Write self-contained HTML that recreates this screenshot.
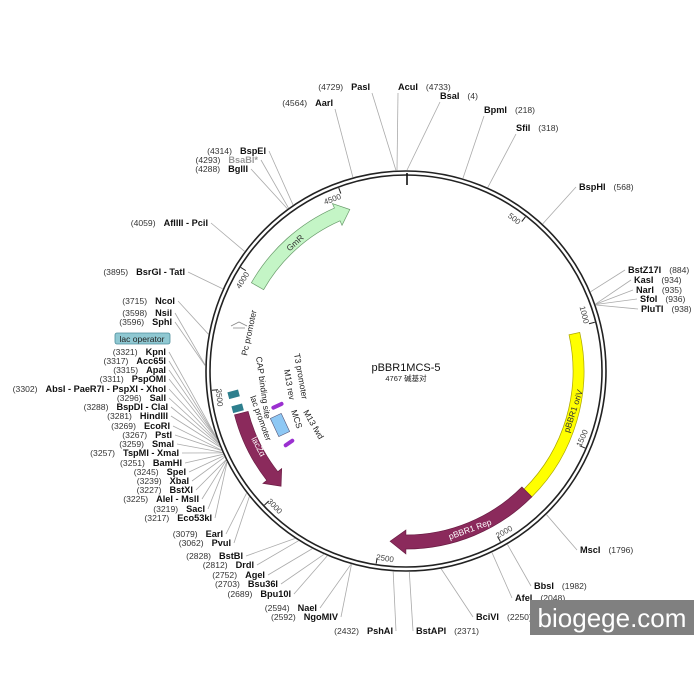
<!DOCTYPE html>
<html><head><meta charset="utf-8">
<style>
html,body{margin:0;padding:0;background:#fff;}
svg{display:block;}
.n{font-family:"Liberation Sans",sans-serif;font-size:8.6px;fill:#333;}
.b{font-family:"Liberation Sans",sans-serif;font-size:9.2px;font-weight:bold;fill:#111;}
.f{font-family:"Liberation Sans",sans-serif;font-size:8.5px;fill:#222;}
</style></head>
<body>
<svg id="s" width="700" height="700" viewBox="0 0 700 700" xmlns="http://www.w3.org/2000/svg">
<rect width="700" height="700" fill="#fff"/>
<g id="lines" stroke="#aaa" stroke-width="0.8" fill="none"></g>
<circle cx="406" cy="371" r="200" fill="none" stroke="#222" stroke-width="1.6"/>
<circle cx="406" cy="371" r="196" fill="none" stroke="#222" stroke-width="1.6"/>
<line x1="407" y1="173" x2="407" y2="185" stroke="#111" stroke-width="1.6"/>
<g id="feat"></g>
<g id="txt"></g>
<rect x="115" y="333" width="55" height="11" rx="2" fill="#8fc8d2" stroke="#4d8e9c" stroke-width="0.8"/>
<text x="142" y="342" text-anchor="middle" class="f" style="font-size:8.5px">lac operator</text>
<rect x="228" y="391" width="11" height="7" fill="#2e7f8e" transform="rotate(-15 233 394)"/>
<rect x="232" y="405" width="11" height="7" fill="#2e7f8e" transform="rotate(-15 237 408)"/>
<rect x="271" y="404" width="13" height="4" rx="2" fill="#9b30d0" transform="rotate(-25 277 406)"/>
<rect x="274" y="415" width="12" height="20" fill="#8ec8f4" stroke="#557" stroke-width="0.6" transform="rotate(-25 280 425)"/>
<rect x="283" y="441" width="12" height="4" rx="2" fill="#9b30d0" transform="rotate(-35 289 443)"/>
<path d="M231 326 l8 -4 l8 4 M233 328 h12" stroke="#888" stroke-width="0.8" fill="none"/>
<text class="f" transform="translate(247 356) rotate(-78)">Pc promoter</text>
<text class="f" transform="translate(256 357) rotate(82)">CAP binding site</text>
<text class="f" transform="translate(250 397) rotate(70)">lac promoter</text>
<text class="f" transform="translate(294 354) rotate(80)">T3 promoter</text>
<text class="f" transform="translate(284 370) rotate(80)">M13 rev</text>
<text class="f" transform="translate(291 411) rotate(72)">MCS</text>
<text class="f" transform="translate(303 412) rotate(60)">M13 fwd</text>
<text x="406" y="371" text-anchor="middle" style="font-family:'Liberation Sans',sans-serif;font-size:11px;fill:#111">pBBR1MCS-5</text>
<text x="406" y="381" text-anchor="middle" style="font-family:'Liberation Sans','Noto Sans CJK SC',sans-serif;font-size:7.5px;fill:#222">4767 碱基对</text>
<rect x="530" y="600" width="164" height="35" fill="#808080"/>
<text x="612" y="627" text-anchor="middle" style="font-family:'Liberation Sans',sans-serif;font-size:26px;fill:#fff">biogege.com</text>
</svg>
<script>
var cx=406,cy=371,N=4767,NS="http://www.w3.org/2000/svg";
function pt(p,r){var a=p/N*2*Math.PI;return [cx+r*Math.sin(a),cy-r*Math.cos(a)];}
function el(t,a,par){var e=document.createElementNS(NS,t);for(var k in a)e.setAttribute(k,a[k]);document.getElementById(par).appendChild(e);return e;}
function arrow(p1,p2,r1,r2,hd,fill,stroke){
  var dir=p2>p1?1:-1, ph=p2-dir*hd, rm=(r1+r2)/2, w=(r2-r1);
  var a=pt(p1,r2),b=pt(ph,r2),c=pt(ph,r2+w*0.35),t=pt(p2,rm),e=pt(ph,r1-w*0.35),f=pt(ph,r1),g=pt(p1,r1);
  var sw=dir>0?1:0, large=Math.abs(ph-p1)>N/2?1:0;
  var s="M"+a+" A"+r2+" "+r2+" 0 "+large+" "+sw+" "+b+" L"+c+" L"+t+" L"+e+" L"+f+" A"+r1+" "+r1+" 0 "+large+" "+(1-sw)+" "+g+" Z";
  el("path",{d:s,fill:fill,stroke:stroke,"stroke-width":0.7},"feat");
}
function band(p1,p2,r1,r2,fill,stroke){
  var a=pt(p1,r2),b=pt(p2,r2),c=pt(p2,r1),d=pt(p1,r1);
  el("path",{d:"M"+a+" A"+r2+" "+r2+" 0 0 1 "+b+" L"+c+" A"+r1+" "+r1+" 0 0 0 "+d+" Z",fill:fill,stroke:stroke,"stroke-width":0.7},"feat");
}
arrow(3969,4513,164,178,60,"#c4f5c6","#6a9c6c");
band(1026,1788,167,178,"#ffff00","#aaa400");
arrow(1788,2454,164,178,70,"#8b2a5c","#6a1d44");
arrow(3385,3010,163,177,60,"#8b2a5c","#6a1d44");
function ft(x,y,rot,txt,col){var e=el("text",{x:0,y:0,transform:"translate("+x+" "+y+") rotate("+rot+")","text-anchor":"middle",style:"font-family:'Liberation Sans',sans-serif;font-size:8.5px;fill:"+col},"txt");e.textContent=txt;}
ft(297,245,-42,"GmR","#333");ft(576,412,-72,"pBBR1 oriV","#333");ft(471,532,-20,"pBBR1 Rep","#fff");ft(256,448,62,"lacZα","#fff");
[500,1000,1500,2000,2500,3000,3500,4000,4500].forEach(function(p){
  var a=pt(p,195),b=pt(p,189);el("line",{x1:a[0],y1:a[1],x2:b[0],y2:b[1],stroke:"#222","stroke-width":1},"txt");
  var ang=p/N*360,rot,anchor,q;
  if(ang<90||ang>270){rot=ang>180?ang-360:ang;anchor="end";q=pt(p-4,184);}
  else{rot=ang-180;anchor="start";q=pt(p+4,191);}
  var e=el("text",{x:0,y:0,transform:"translate("+q[0]+" "+q[1]+") rotate("+rot+")","text-anchor":anchor,class:"n",style:"font-size:8px;fill:#444"},"txt");e.textContent=p;
});
var S=[
["3715","NcoI",175,304,"L"],["3598","NsiI",172,316,"L"],["3596","SphI",172,325,"L"],
["3321","KpnI",166,355,"L"],["3317","Acc65I",166,364,"L"],["3315","ApaI",166,373,"L"],["3311","PspOMI",166,382,"L"],
["3302","AbsI - PaeR7I - PspXI - XhoI",166,392,"L"],["3296","SalI",166,401,"L"],["3288","BspDI - ClaI",168,410,"L"],
["3281","HindIII",168,419,"L"],["3269","EcoRI",170,429,"L"],["3267","PstI",172,438,"L"],["3259","SmaI",174,447,"L"],
["3257","TspMI - XmaI",179,456,"L"],["3251","BamHI",182,466,"L"],["3245","SpeI",186,475,"L"],["3239","XbaI",189,484,"L"],
["3227","BstXI",193,493,"L"],["3225","AleI - MslI",199,502,"L"],["3219","SacI",205,512,"L"],["3217","Eco53kI",212,521,"L"],
["3079","EarI",223,537,"L"],["3062","PvuI",231,546,"L"],["2828","BstBI",243,559,"L"],["2812","DrdI",254,568,"L"],
["2752","AgeI",265,578,"L"],["2703","Bsu36I",278,587,"L"],["2689","Bpu10I",291,597,"L"],["2594","NaeI",317,611,"L"],
["2592","NgoMIV",338,620,"L"],["2432","PshAI",393,634,"L"],
["2371","BstAPI",416,634,"R"],["2250","BciVI",476,620,"R"],["2048","AfeI",515,601,"R"],["1982","BbsI",534,589,"R"],["1796","MscI",580,553,"R"],
["3895","BsrGI - TatI",185,275,"L"],["4059","AflIII - PciI",208,226,"L"],["4288","BglII",248,172,"L"],["4293","BsaBI*",258,163,"L",1],
["4314","BspEI",266,154,"L"],["4564","AarI",333,106,"L"],["4729","PasI",370,90,"L"],
["4733","AcuI",398,90,"R"],["4","BsaI",440,99,"R"],["218","BpmI",484,113,"R"],["318","SfiI",516,131,"R"],["568","BspHI",579,190,"R"],
["884","BstZ17I",628,273,"R"],["934","KasI",634,283,"R"],["935","NarI",636,293,"R"],["936","SfoI",640,302,"R"],["938","PluTI",641,312,"R"]
];
S.forEach(function(s){
  var num=+s[0],x=s[2],y=s[3],L=s[4]=="L";
  var t=el("text",{x:x,y:y,"text-anchor":L?"end":"start"},"txt");
  var nm=document.createElementNS(NS,"tspan");nm.setAttribute("class","b");if(s[5])nm.setAttribute("style","fill:#999");nm.textContent=s[1];
  var nn=document.createElementNS(NS,"tspan");nn.setAttribute("class","n");nn.textContent="("+s[0]+")";
  if(L){t.appendChild(nn);t.appendChild(document.createTextNode("\u00a0 "));t.appendChild(nm);}
  else{t.appendChild(nm);t.appendChild(document.createTextNode("\u00a0 "));t.appendChild(nn);}
  var a=pt(num,201),lx,ly;
  var top=(num>4500||num<350);
  if(top){lx=x+(L?2:0);ly=y+3;}
  else if(L){lx=x+3;ly=y-3;} else {lx=x-3;ly=y-3;}
  el("line",{x1:lx,y1:ly,x2:a[0],y2:a[1]},"lines");
});
</script>
</body></html>
